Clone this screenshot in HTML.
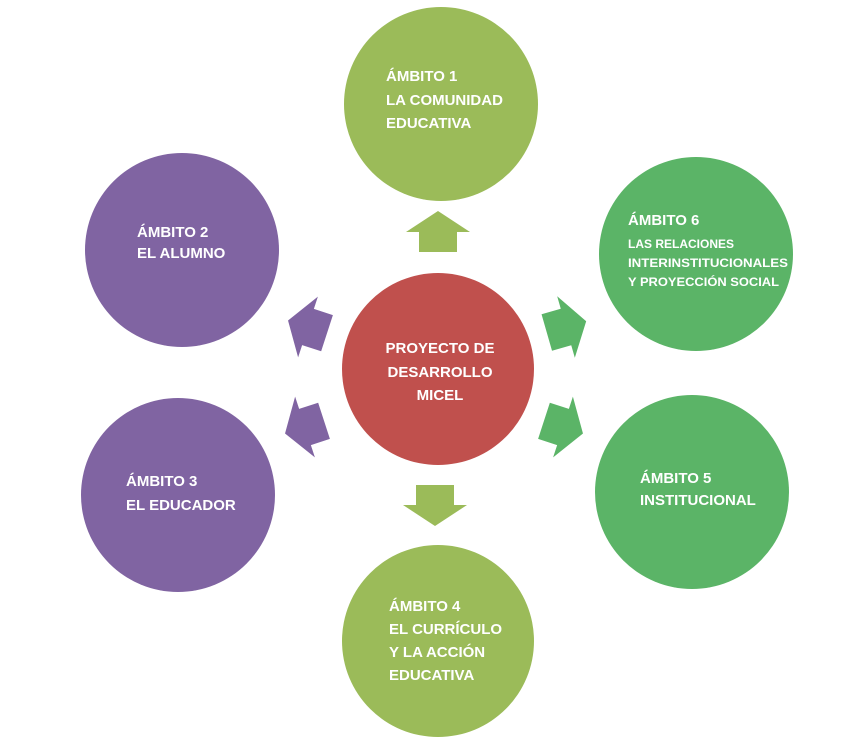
<!DOCTYPE html>
<html><head><meta charset="utf-8"><style>
html,body{margin:0;padding:0;background:#fff;}
svg{display:block;}
text{font-family:"Liberation Sans",sans-serif;font-weight:bold;fill:#fff;}
</style></head><body>
<svg width="866" height="750" viewBox="0 0 866 750" xmlns="http://www.w3.org/2000/svg">
<defs>
<polygon id="ar" points="-20,-19 0,-19 0,-32 21,0 0,32 0,19 -20,19"/>
</defs>
<circle cx="441" cy="104" r="97" fill="#9BBB59"/>
<circle cx="182" cy="250" r="97" fill="#8064A2"/>
<circle cx="696" cy="254" r="97" fill="#5BB467"/>
<circle cx="438" cy="369" r="96" fill="#C0504D"/>
<circle cx="178" cy="495" r="97" fill="#8064A2"/>
<circle cx="692" cy="492" r="97" fill="#5BB467"/>
<circle cx="438" cy="641" r="96" fill="#9BBB59"/>

<use href="#ar" fill="#9BBB59" transform="translate(438,232) rotate(-90)"/>
<use href="#ar" fill="#9BBB59" transform="translate(435,505) rotate(90)"/>
<use href="#ar" fill="#8064A2" transform="translate(308,327) rotate(198)"/>
<use href="#ar" fill="#8064A2" transform="translate(305,427) rotate(162)"/>
<use href="#ar" fill="#5BB467" transform="translate(566,327) rotate(-16)"/>
<use href="#ar" fill="#5BB467" transform="translate(563,427) rotate(18)"/>

<g font-size="15">
<text x="386" y="81">ÁMBITO 1</text>
<text x="386" y="105">LA COMUNIDAD</text>
<text x="386" y="128">EDUCATIVA</text>
<text x="137" y="237">ÁMBITO 2</text>
<text x="137" y="258">EL ALUMNO</text>
<text x="628" y="225">ÁMBITO 6</text>
<text x="126" y="486">ÁMBITO 3</text>
<text x="126" y="510">EL EDUCADOR</text>
<text x="640" y="483">ÁMBITO 5</text>
<text x="640" y="505">INSTITUCIONAL</text>
<text x="389" y="611">ÁMBITO 4</text>
<text x="389" y="634">EL CURRÍCULO</text>
<text x="389" y="657">Y LA ACCIÓN</text>
<text x="389" y="680">EDUCATIVA</text>
<text x="440" y="353" text-anchor="middle">PROYECTO DE</text>
<text x="440" y="377" text-anchor="middle">DESARROLLO</text>
<text x="440" y="400" text-anchor="middle">MICEL</text>
</g>
<g font-size="12">
<text x="628" y="248">LAS RELACIONES</text>
<text x="628" y="267" textLength="160" lengthAdjust="spacingAndGlyphs">INTERINSTITUCIONALES</text>
<text x="628" y="286" textLength="151" lengthAdjust="spacingAndGlyphs">Y PROYECCIÓN SOCIAL</text>
</g>
</svg>
</body></html>
